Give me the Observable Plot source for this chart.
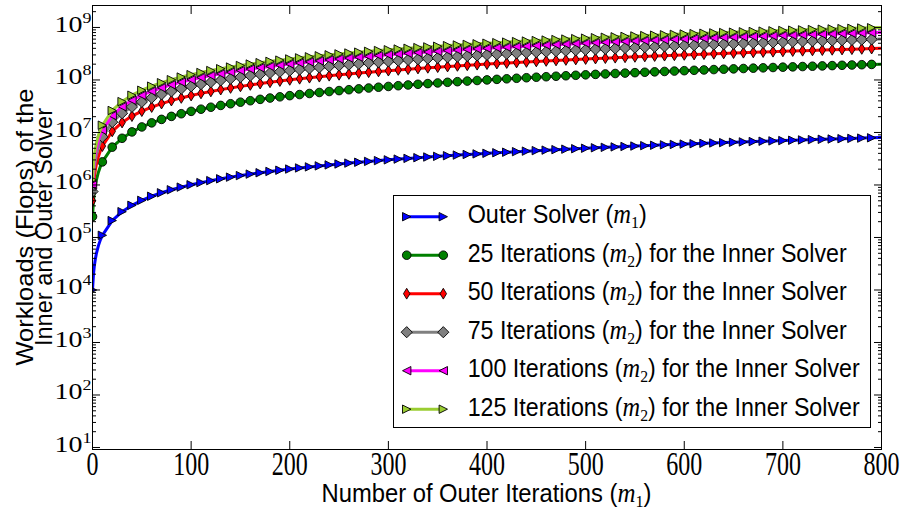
<!DOCTYPE html>
<html><head><meta charset="utf-8">
<script src="https://cdn.jsdelivr.net/npm/d3@7"></script>
<script src="https://cdn.jsdelivr.net/npm/@observablehq/plot@0.6"></script>
<style>
body{margin:0;background:#fff;}
#chart{width:902px;height:510px;}
</style></head><body><div id="chart"></div>
<script>
// Outer iterations (m1) at which values were read
const iters = [0,1,2,3,4,6,8,10,20,30,40,50,60,70,80,90,100,110,120,130,140,150,160,170,180,190,200,210,220,230,240,250,260,270,280,290,300,310,320,330,340,350,360,370,380,390,400,410,420,430,440,450,460,470,480,490,500,510,520,530,540,550,560,570,580,590,600,610,620,630,640,650,660,670,680,690,700,710,720,730,740,750,760,770,780,790,800];
const UNIT = 1e3; // values below are in thousands of flops
const outerSolver = [10,20,30,40,50,70,90,110,210,310,410,510,610,710,810,910,1010,1110,1210,1310,1410,1510,1610,1710,1810,1910,2010,2110,2210,2310,2410,2510,2610,2710,2810,2910,3010,3110,3210,3310,3410,3510,3610,3710,3810,3910,4010,4110,4210,4310,4410,4510,4610,4710,4810,4910,5010,5110,5210,5310,5410,5510,5610,5710,5810,5910,6010,6110,6210,6310,6410,6510,6610,6710,6810,6910,7010,7110,7210,7310,7410,7510,7610,7710,7810,7910,8010];
const inner25 = [250,500,750,1000,1250,1750,2250,2750,5250,7750,10250,12750,15250,17750,20250,22750,25250,27750,30250,32750,35250,37750,40250,42750,45250,47750,50250,52750,55250,57750,60250,62750,65250,67750,70250,72750,75250,77750,80250,82750,85250,87750,90250,92750,95250,97750,100250,102750,105250,107750,110250,112750,115250,117750,120250,122750,125250,127750,130250,132750,135250,137750,140250,142750,145250,147750,150250,152750,155250,157750,160250,162750,165250,167750,170250,172750,175250,177750,180250,182750,185250,187750,190250,192750,195250,197750,200250];
const inner50 = [500,1000,1500,2000,2500,3500,4500,5500,10500,15500,20500,25500,30500,35500,40500,45500,50500,55500,60500,65500,70500,75500,80500,85500,90500,95500,100500,105500,110500,115500,120500,125500,130500,135500,140500,145500,150500,155500,160500,165500,170500,175500,180500,185500,190500,195500,200500,205500,210500,215500,220500,225500,230500,235500,240500,245500,250500,255500,260500,265500,270500,275500,280500,285500,290500,295500,300500,305500,310500,315500,320500,325500,330500,335500,340500,345500,350500,355500,360500,365500,370500,375500,380500,385500,390500,395500,400500];
const inner75 = [750,1500,2250,3000,3750,5250,6750,8250,15750,23250,30750,38250,45750,53250,60750,68250,75750,83250,90750,98250,105750,113250,120750,128250,135750,143250,150750,158250,165750,173250,180750,188250,195750,203250,210750,218250,225750,233250,240750,248250,255750,263250,270750,278250,285750,293250,300750,308250,315750,323250,330750,338250,345750,353250,360750,368250,375750,383250,390750,398250,405750,413250,420750,428250,435750,443250,450750,458250,465750,473250,480750,488250,495750,503250,510750,518250,525750,533250,540750,548250,555750,563250,570750,578250,585750,593250,600750];
const inner100 = [1000,2000,3000,4000,5000,7000,9000,11000,21000,31000,41000,51000,61000,71000,81000,91000,101000,111000,121000,131000,141000,151000,161000,171000,181000,191000,201000,211000,221000,231000,241000,251000,261000,271000,281000,291000,301000,311000,321000,331000,341000,351000,361000,371000,381000,391000,401000,411000,421000,431000,441000,451000,461000,471000,481000,491000,501000,511000,521000,531000,541000,551000,561000,571000,581000,591000,601000,611000,621000,631000,641000,651000,661000,671000,681000,691000,701000,711000,721000,731000,741000,751000,761000,771000,781000,791000,801000];
const inner125 = [1250,2500,3750,5000,6250,8750,11250,13750,26250,38750,51250,63750,76250,88750,101250,113750,126250,138750,151250,163750,176250,188750,201250,213750,226250,238750,251250,263750,276250,288750,301250,313750,326250,338750,351250,363750,376250,388750,401250,413750,426250,438750,451250,463750,476250,488750,501250,513750,526250,538750,551250,563750,576250,588750,601250,613750,626250,638750,651250,663750,676250,688750,701250,713750,726250,738750,751250,763750,776250,788750,801250,813750,826250,838750,851250,863750,876250,888750,901250,913750,926250,938750,951250,963750,976250,988750,1001250];

const seriesNames = ["Outer Solver", "25", "50", "75", "100", "125"];
const xTicks = [0,100,200,300,400,500,600,700,800];
const yExponents = [1,2,3,4,5,6,7,8,9];

// marker shapes (matplotlib-like)
const rad = s => Math.sqrt(s/Math.PI);
const symTriRight = {draw(c,s){const r=rad(s);c.moveTo(r,0);c.lineTo(-r,-r);c.lineTo(-r,r);c.closePath();}};
const symTriLeft = {draw(c,s){const r=rad(s);c.moveTo(-r,0);c.lineTo(r,-r);c.lineTo(r,r);c.closePath();}};
const symCircle = {draw(c,s){const r=rad(s);c.moveTo(r,0);c.arc(0,0,r,0,2*Math.PI);c.closePath();}};
const symDiamond = {draw(c,s){const r=rad(s);c.moveTo(0,-r);c.lineTo(r,0);c.lineTo(0,r);c.lineTo(-r,0);c.closePath();}};
const symThin = {draw(c,s){const r=rad(s);c.moveTo(0,-r);c.lineTo(0.6*r,0);c.lineTo(0,r);c.lineTo(-0.6*r,0);c.closePath();}};

const valueArrays = [outerSolver, inner25, inner50, inner75, inner100, inner125];
const styles = [
  {color:"#0000ff", sym:symTriRight, r:4.2},
  {color:"#008000", sym:symCircle, r:4.3},
  {color:"#ff0000", sym:symThin, r:5.4},
  {color:"#808080", sym:symDiamond, r:5.6},
  {color:"#ff00ff", sym:symTriLeft, r:4.2},
  {color:"#9acd32", sym:symTriRight, r:4.2}
];

const seriesData = valueArrays.map((vals, si) => iters.map((m, i) => ({m, v: vals[i]*UNIT, s: seriesNames[si]})));

const yMajor = yExponents.map(e => Math.pow(10, e));
const yMinor = [];
for (let e = 0; e <= 9; e++) for (let k = 2; k <= 9; k++) { const v = k*Math.pow(10,e); if (v >= 9.2 && v <= 2.6e9) yMinor.push(v); }

const marks = [];
seriesData.forEach((d, si) => {
  const st = styles[si];
  marks.push(Plot.line(d, {x:"m", y:"v", stroke: st.color, strokeWidth: 3, clip: true}));
  marks.push(Plot.dot(d.filter(p => p.m % 10 === 0 && p.m < 800), {x:"m", y:"v", symbol: st.sym, r: st.r, fill: st.color, stroke:"black", strokeWidth: 0.9, clip: true}));
});
marks.push(
  Plot.axisX({ticks: xTicks, anchor:"bottom", tickSize:-8, tickPadding: 10, tickFormat: d => String(d), label: null, fontSize: 24}),
  Plot.axisX({ticks: xTicks, anchor:"top", tickSize:-8, tickFormat: () => "", label: null}),
  Plot.axisY({ticks: yMajor, anchor:"left", tickSize:-8, tickPadding: 9, tickFormat: d => "10^" + Math.round(Math.log10(d)), label: null, fontSize: 28}),
  Plot.axisY({ticks: yMajor, anchor:"right", tickSize:-8, tickFormat: () => "", label: null}),
  Plot.axisY({ticks: yMinor, anchor:"left", tickSize:-4, tickFormat: () => "", label: null}),
  Plot.axisY({ticks: yMinor, anchor:"right", tickSize:-4, tickFormat: () => "", label: null}),
  Plot.frame({stroke:"black", strokeWidth: 1})
);

const plot = Plot.plot({
  width: 902, height: 510,
  marginLeft: 92, marginRight: 21, marginTop: 5, marginBottom: 61,
  style: {fontFamily: "'Liberation Serif', serif", fontSize: "24px", background: "white", overflow: "visible", color: "black"},
  x: {domain: [0, 800]},
  y: {type: "log", domain: [9.16, 2.62e9]},
  marks
});
document.getElementById("chart").appendChild(plot);

const svg = d3.select(plot);
// superscripts on y tick labels
svg.selectAll("text").each(function() {
  const t = this.textContent;
  if (t.includes("^")) {
    const [b, e] = t.split("^");
    const el = d3.select(this);
    el.text(b);
    el.attr("y", 0).attr("dy", 5.6);
    const tr = this.getAttribute("transform") || "";
    this.setAttribute("transform", tr + " scale(1,0.8)");
    el.append("tspan").attr("dy", -11.5).attr("font-size", "18px").text(e);
  }
});
// x tick labels are drawn tall, as in the reference
svg.selectAll('g[aria-label="x-axis tick label"] text').each(function() {
  const tr = this.getAttribute("transform") || "";
  this.setAttribute("transform", tr + " scale(1,1.38)");
});

const sx = plot.scale("x"), sy = plot.scale("y");
const cx = (sx.range[0] + sx.range[1]) / 2;
const cy = (sy.range[0] + sy.range[1]) / 2;
const SANS = "'Liberation Sans', Arial, sans-serif";
const SERIF = "'Liberation Serif', serif";

function mathLabel(sel, before, sub, after) {
  sel.append("tspan").text(before);
  sel.append("tspan").attr("font-family", SERIF).attr("font-style", "italic").attr("font-size", "1.05em").text("m");
  sel.append("tspan").attr("font-family", SERIF).attr("font-size", "0.68em").attr("dy", "0.28em").text(sub);
  sel.append("tspan").attr("dy", "-0.19em").text(after);
}

// x axis label
const xl = svg.append("text").attr("x", cx).attr("y", 502).attr("text-anchor", "middle")
  .attr("font-family", SANS).attr("font-size", 25).attr("textLength", 330).attr("lengthAdjust", "spacingAndGlyphs");
mathLabel(xl, "Number of Outer Iterations (", "1", ")");

// y axis label (two lines)
const ylab = ["Workloads (Flops) of the", "Inner and Outer Solver"];
const ylx = [33, 52];
const ylw = [277, 238];
ylab.forEach((t, i) => {
  svg.append("text").attr("transform", `translate(${ylx[i]},${cy}) rotate(-90)`).attr("text-anchor", "middle")
    .attr("font-family", SANS).attr("font-size", 24).attr("textLength", ylw[i]).attr("lengthAdjust", "spacingAndGlyphs").text(t);
});

// legend
const legLabels = [
  ["Outer Solver (", "1", ")"],
  ["25 Iterations (", "2", ") for the Inner Solver"],
  ["50 Iterations (", "2", ") for the Inner Solver"],
  ["75 Iterations (", "2", ") for the Inner Solver"],
  ["100 Iterations (", "2", ") for the Inner Solver"],
  ["125 Iterations (", "2", ") for the Inner Solver"]
];
const legWidths = [179, 379, 379, 379, 392, 392];
const lg = svg.append("g").attr("text-anchor", "start");
lg.append("rect").attr("x", 393.5).attr("y", 195.5).attr("width", 477).attr("height", 232)
  .attr("fill", "white").attr("stroke", "black").attr("stroke-width", 1);
legLabels.forEach((lab, i) => {
  const yy = 216.7 + i * 38.5;
  const st = styles[i];
  lg.append("line").attr("x1", 406.7).attr("x2", 443.3).attr("y1", yy).attr("y2", yy)
    .attr("stroke", st.color).attr("stroke-width", 3);
  [406.7, 443.3].forEach(xx => {
    lg.append("path").attr("d", d3.symbol(st.sym, st.r * st.r * Math.PI)())
      .attr("transform", `translate(${xx},${yy})`).attr("fill", st.color).attr("stroke", "black").attr("stroke-width", 0.9);
  });
  const tx = lg.append("text").attr("x", 467.7).attr("y", yy + 6.6).attr("text-anchor", "start").attr("font-family", SANS).attr("font-size", 25)
    .attr("textLength", legWidths[i]).attr("lengthAdjust", "spacingAndGlyphs");
  mathLabel(tx, lab[0], lab[1], lab[2]);
});
</script>
</body></html>
